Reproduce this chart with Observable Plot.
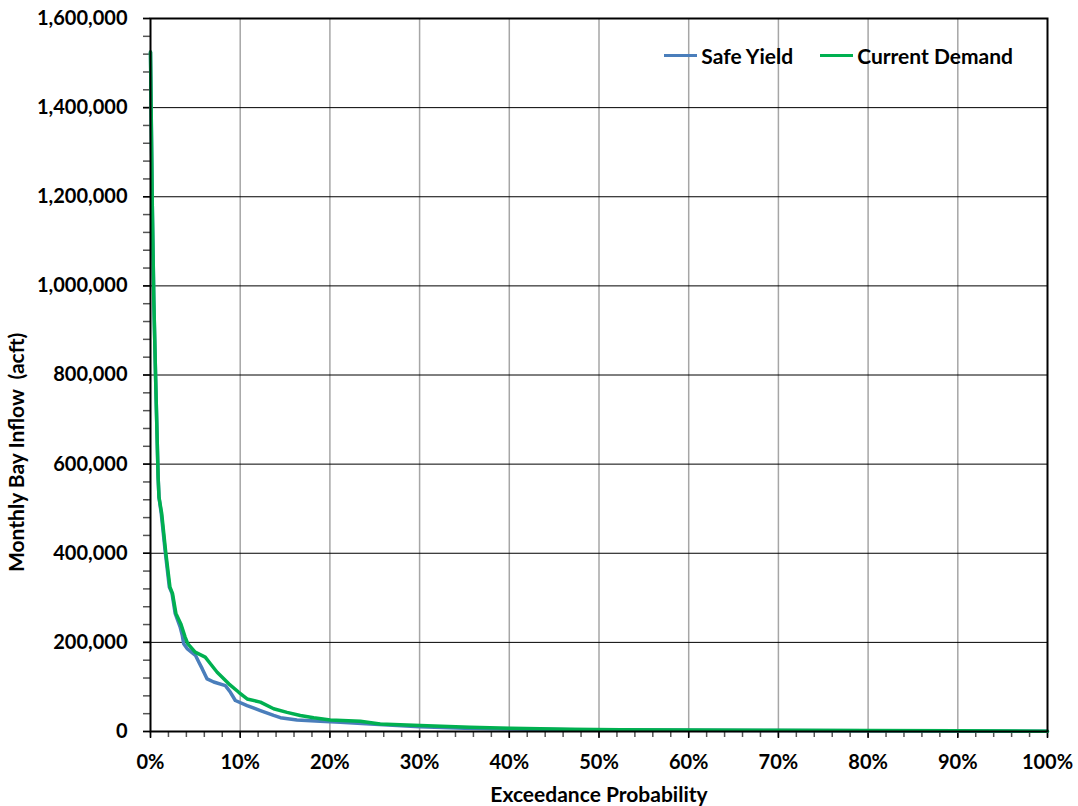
<!DOCTYPE html>
<html>
<head>
<meta charset="utf-8">
<script src="https://cdn.jsdelivr.net/npm/d3@7"></script>
<script src="https://cdn.jsdelivr.net/npm/@observablehq/plot@0.6"></script>
<style>
  html, body { margin: 0; padding: 0; background: #fff; }
  #wrap { position: relative; width: 1078px; height: 806px; font-family: Lato, "Open Sans", sans-serif; font-weight: 700; }
  #legend { position: absolute; top: 43px; right: 65px; display: flex; align-items: center; font-size: 21px; color: #000; white-space: nowrap; }
  .sw { display: inline-block; width: 33px; height: 3px; margin-right: 4px; }
  .item { display: flex; align-items: center; }
  .item + .item { margin-left: 27px; }
</style>
</head>
<body>
<div id="wrap"><div id="legend"></div></div>
<script>
// ---- Data ----
const seriesNames = ["Safe Yield", "Current Demand"];
const seriesColors = ["#4a7ebb", "#00b050"];

// Exceedance probability (%) and monthly bay inflow (acft)
const safeYieldProb = [0, 0.1, 0.2, 0.37, 0.56, 0.85, 0.95, 1.2, 1.65, 2.1, 2.4, 2.75, 3.3, 3.55, 3.7, 4.08, 5.01, 5.38, 5.76, 6.31, 7.05, 8.35, 8.91, 9.46, 10.77, 12.25, 13.73, 14.48, 16.33, 18.93, 21.16, 25, 30, 35, 40, 50, 60, 70, 80, 90, 100];
const safeYieldFlow = [1525000, 1350000, 1180000, 967000, 802000, 570000, 525000, 489000, 402000, 324000, 310000, 265000, 235000, 215000, 197000, 186000, 171000, 156000, 141000, 118000, 111000, 103000, 88000, 69600, 58000, 47000, 36000, 31000, 26000, 23000, 21000, 16000, 10500, 7500, 5800, 3500, 2700, 2200, 1800, 1300, 500];

const currentDemandProb = [0, 0.1, 0.2, 0.37, 0.56, 0.85, 0.95, 1.25, 1.7, 2.17, 2.45, 2.83, 3.37, 3.86, 4.15, 4.98, 6.1, 6.68, 7.43, 8.73, 9.84, 10.77, 12.25, 13.73, 15.22, 16.7, 18.19, 20.04, 23.4, 25.6, 30.07, 35.6, 40.1, 46.8, 52.4, 60, 70, 80, 90, 100];
const currentDemandFlow = [1525000, 1350000, 1180000, 967000, 802000, 570000, 525000, 489000, 402000, 324000, 310000, 265000, 242000, 212000, 197000, 178000, 167000, 152000, 133000, 107000, 88000, 73000, 66000, 51000, 43000, 36000, 31000, 26000, 23000, 17000, 13500, 9700, 7400, 5200, 3800, 3200, 2700, 2200, 1600, 800];

const xTicks = [0, 10, 20, 30, 40, 50, 60, 70, 80, 90, 100];
const yTicks = [0, 200000, 400000, 600000, 800000, 1000000, 1200000, 1400000, 1600000];
const xLabel = "Exceedance Probability";
const yLabel = "Monthly Bay Inflow \u00a0(acft)";

// ---- Build table ----
const rows = [
  ...safeYieldProb.map((p, i) => ({series: seriesNames[0], p, v: safeYieldFlow[i]})),
  ...currentDemandProb.map((p, i) => ({series: seriesNames[1], p, v: currentDemandFlow[i]}))
];
const xMinor = d3.range(0, 100.001, 2);
const yMinor = d3.range(0, 1600001, 40000);

const chart = Plot.plot({
  width: 1078,
  height: 806,
  marginLeft: 150,
  marginRight: 31,
  marginTop: 18,
  marginBottom: 75,
  style: {fontFamily: "Lato, 'Open Sans', sans-serif", fontWeight: 700, fontSize: "20px", color: "#000", background: "#fff"},
  x: {domain: [0, 100]},
  y: {domain: [0, 1600000]},
  color: {domain: seriesNames, range: seriesColors},
  marks: [
    Plot.gridX(xTicks.slice(1, -1), {stroke: "#a6a6a6", strokeOpacity: 1, strokeWidth: 1.5}),
    Plot.gridY(yTicks.slice(1, -1), {stroke: "#000", strokeOpacity: 1, strokeWidth: 1}),
    Plot.axisX(xMinor, {tickSize: 6, tickFormat: null, text: null, stroke: "#555", strokeWidth: 1.5, label: null}),
    Plot.axisX(xTicks, {tickSize: 7, tickPadding: 16, tickFormat: d => d + "%", stroke: "#000", strokeWidth: 1.5, label: null}),
    Plot.axisY(yMinor, {tickSize: 7, tickFormat: null, text: null, stroke: "#555", strokeWidth: 1.5, label: null}),
    Plot.axisY(yTicks, {tickSize: 7, tickPadding: 16, tickFormat: d3.format(","), stroke: "#000", strokeWidth: 1.5, label: null}),
    Plot.line(rows, {x: "p", y: "v", z: "series", stroke: "series", strokeWidth: 3.5, curve: "linear"}),
    Plot.frame({stroke: "#000", strokeWidth: 2}),
    Plot.text([xLabel], {frameAnchor: "bottom", dy: 70, fontSize: 21, fontWeight: 700}),
    Plot.text([yLabel], {frameAnchor: "left", textAnchor: "start", lineAnchor: "middle", rotate: -90, dx: -133, dy: 197, fontSize: 21, fontWeight: 700})
  ]
});
document.getElementById("wrap").prepend(chart);

const legend = document.getElementById("legend");
seriesNames.forEach((name, i) => {
  const item = document.createElement("span");
  item.className = "item";
  const sw = document.createElement("span");
  sw.className = "sw";
  sw.style.background = seriesColors[i];
  item.appendChild(sw);
  item.appendChild(document.createTextNode(name));
  legend.appendChild(item);
});
</script>
</body>
</html>
